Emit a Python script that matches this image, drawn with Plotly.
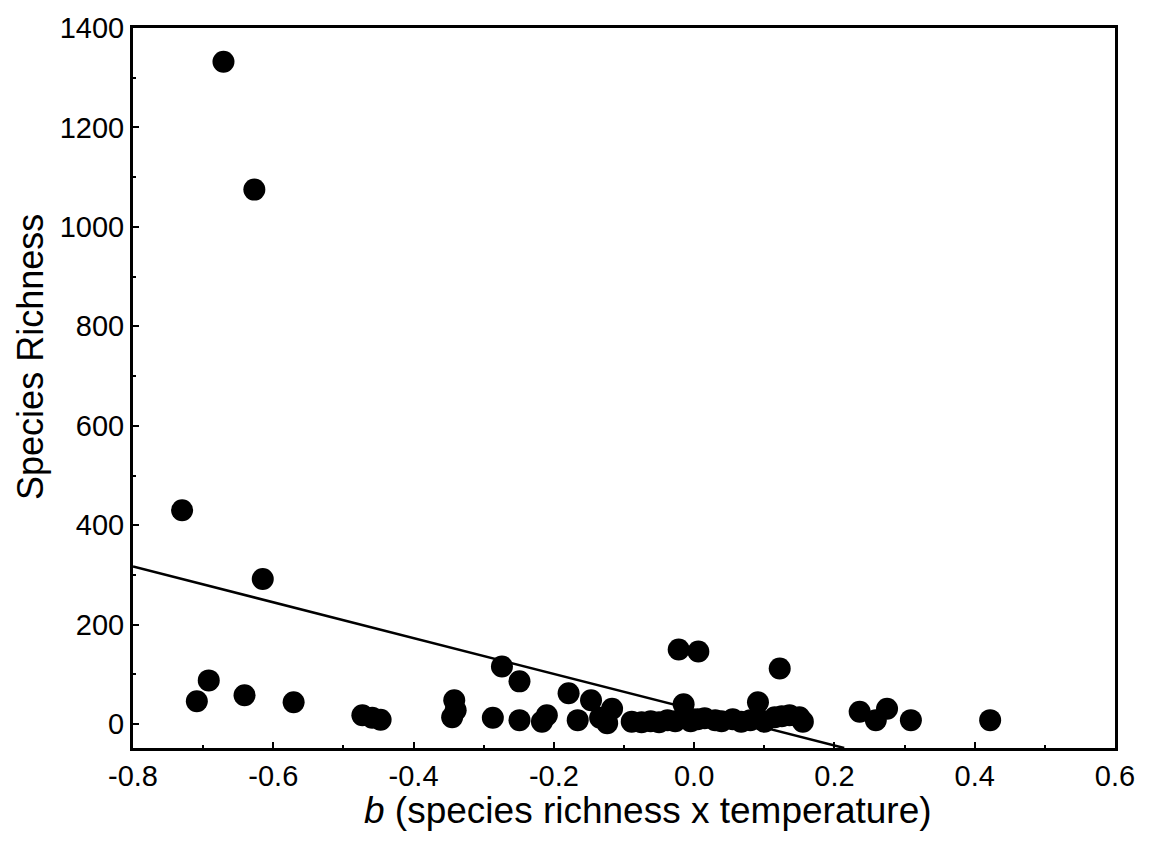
import plotly.graph_objects as go

# Data
b_values = [-0.671, -0.627, -0.730, -0.615, -0.692, -0.709, -0.641, -0.571,
            -0.473, -0.459, -0.447, -0.342, -0.340, -0.345, -0.274, -0.249,
            -0.287, -0.249, -0.210, -0.217, -0.179, -0.166, -0.147, -0.117,
            -0.134, -0.124, -0.089, -0.075, -0.062, -0.050, -0.038, -0.027,
            -0.022, 0.006, -0.015, -0.012, -0.005, 0.005, 0.015, 0.030,
            0.039, 0.055, 0.067, 0.080, 0.091, 0.091, 0.100, 0.115,
            0.122, 0.125, 0.136, 0.150, 0.155, 0.236, 0.259, 0.275,
            0.309, 0.422]
richness = [1332, 1075, 430, 292, 88, 46, 58, 44,
            18, 13, 9, 48, 28, 14, 116, 86,
            13, 8, 18, 5, 62, 8, 48, 31,
            13, 2, 5, 4, 6, 4, 8, 6,
            150, 146, 40, 14, 6, 10, 12, 8,
            6, 10, 5, 8, 44, 12, 5, 14,
            112, 16, 18, 14, 5, 25, 8, 31,
            8, 8]

# Regression line parameters
fit_slope = -360.0
fit_intercept = 29.0
x_range = [-0.8, 0.6]
y_range = [-48, 1400]
x_ticks = [-0.8, -0.6, -0.4, -0.2, 0.0, 0.2, 0.4, 0.6]
x_ticklabels = ["-0.8", "-0.6", "-0.4", "-0.2", "0.0", "0.2", "0.4", "0.6"]
y_ticks = [0, 200, 400, 600, 800, 1000, 1200, 1400]

x_line_start = x_range[0]
x_line_end = (y_range[0] - fit_intercept) / fit_slope
line_x = [x_line_start, x_line_end]
line_y = [fit_slope * v + fit_intercept for v in line_x]

font_family = "Liberation Sans, Arial, sans-serif"

fig = go.Figure()
fig.add_trace(go.Scatter(x=line_x, y=line_y, mode="lines",
                         line=dict(color="black", width=2.5),
                         showlegend=False, hoverinfo="skip"))
fig.add_trace(go.Scatter(x=b_values, y=richness, mode="markers",
                         marker=dict(color="black", size=22, line=dict(width=0)),
                         showlegend=False))

axis_common = dict(
    showgrid=False, zeroline=False, showline=True, linecolor="black",
    linewidth=3, mirror=True, ticks="inside", ticklen=6, tickwidth=2,
    tickcolor="black", tickfont=dict(family=font_family, size=29, color="black"),
)

fig.update_xaxes(range=x_range, tickvals=x_ticks, ticktext=x_ticklabels,
                 minor=dict(ticks="inside", ticklen=3, tickwidth=2, dtick=0.1,
                            tickcolor="black", tick0=-0.8),
                 **axis_common)
fig.update_yaxes(range=y_range, tickvals=y_ticks,
                 minor=dict(ticks="inside", ticklen=3, tickwidth=2, dtick=100,
                            tickcolor="black", tick0=0),
                 **axis_common)

fig.add_annotation(text="<i>b</i> (species richness x temperature)",
                   xref="paper", yref="paper", x=0.524, y=-0.087,
                   xanchor="center", yanchor="middle", showarrow=False,
                   font=dict(family=font_family, size=37, color="black"))
fig.add_annotation(text="Species Richness", textangle=-90,
                   xref="paper", yref="paper", x=-0.105, y=0.543,
                   xanchor="center", yanchor="middle", showarrow=False,
                   font=dict(family=font_family, size=36, color="black"))

fig.update_layout(
    width=1150, height=852,
    margin=dict(l=133, r=35, t=28, b=104, autoexpand=False),
    plot_bgcolor="white", paper_bgcolor="white",
)

fig.write_html("out.html")
